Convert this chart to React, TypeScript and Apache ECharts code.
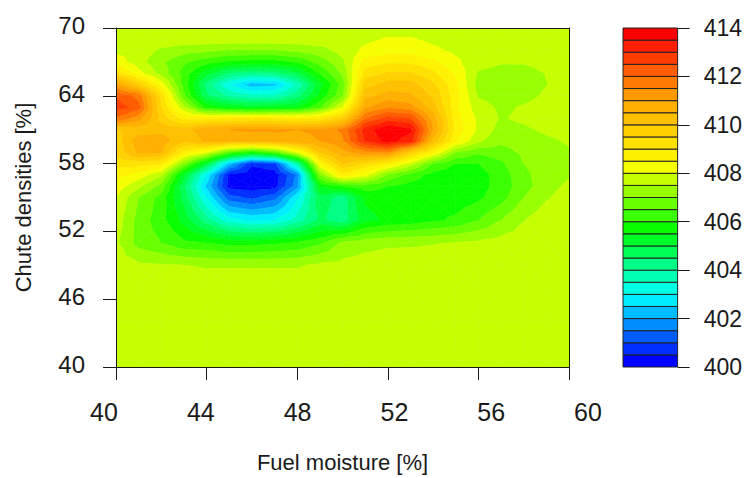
import React, { useEffect, useRef } from "react";
import * as echarts from "echarts";

// Grid of the response surface: fuel moisture (x) by chute density (y)
const fuelMoisture = [40, 41, 42, 43, 44, 45, 46, 47, 48, 49, 50, 51, 52, 53, 54, 55, 56, 57, 58, 59, 60];
const chuteDensity = [40, 44, 47, 49, 51, 53, 55, 56, 57, 58, 59, 60, 61, 62, 63, 64, 65, 66, 67, 68, 69, 70];

// One row of values per chute density, left to right along fuel moisture
const z40 = [407.8, 407.8, 407.8, 407.8, 407.8, 407.8, 407.8, 407.8, 407.8, 407.8, 407.8, 407.8, 407.8, 407.8, 407.8, 407.8, 407.8, 407.8, 407.8, 407.8, 407.8];
const z44 = [407.8, 407.8, 407.8, 407.8, 407.8, 407.8, 407.8, 407.8, 407.8, 407.8, 407.8, 407.8, 407.8, 407.8, 407.8, 407.8, 407.8, 407.8, 407.8, 407.8, 407.8];
const z47 = [407.8, 407.8, 407.8, 407.8, 407.8, 407.8, 407.8, 407.8, 407.8, 407.8, 407.8, 407.8, 407.8, 407.8, 407.8, 407.8, 407.8, 407.8, 407.8, 407.8, 407.8];
const z49 = [407.8, 407.6, 407.55, 407.52, 407.45, 407.45, 407.45, 407.45, 407.45, 407.6, 407.65, 407.75, 407.8, 407.8, 407.8, 407.8, 407.8, 407.8, 407.8, 407.8, 407.8];
const z51 = [407.6, 406.8, 406.5, 406.1, 406.0, 405.8, 405.8, 405.9, 406.05, 406.4, 407.1, 407.3, 407.4, 407.42, 407.47, 407.52, 407.6, 407.7, 407.8, 407.8, 407.8];
const z53 = [407.8, 406.8, 406.2, 405.3, 404.2, 403.2, 402.9, 403.0, 403.7, 404.6, 404.2, 405.3, 405.6, 405.7, 405.9, 406.1, 406.5, 407.0, 407.48, 407.8, 407.8];
const z55 = [408.0, 407.0, 406.3, 404.8, 403.0, 401.2, 400.9, 401.3, 402.9, 404.8, 404.2, 405.6, 405.8, 405.7, 405.7, 405.7, 405.9, 406.3, 407.0, 407.45, 407.75];
const z56 = [408.3, 407.6, 406.8, 404.6, 402.4, 400.3, 400.2, 400.3, 401.8, 405.5, 406.0, 406.3, 406.0, 405.8, 405.7, 405.7, 405.8, 406.2, 406.8, 407.3, 407.6];
const z57 = [408.7, 408.3, 407.6, 405.2, 402.9, 400.4, 400.15, 400.2, 401.6, 407.0, 408.8, 408.2, 406.9, 406.3, 405.8, 405.7, 405.8, 406.2, 406.9, 407.2, 407.45];
const z58 = [409.2, 409.2, 409.0, 407.0, 405.0, 402.3, 400.6, 400.9, 403.8, 408.5, 410.0, 409.4, 408.8, 407.8, 406.5, 406.0, 406.0, 406.4, 407.0, 407.25, 407.4];
const z59 = [409.6, 410.6, 410.5, 408.8, 408.05, 406.5, 405.8, 406.5, 408.05, 410.0, 410.8, 411.3, 411.4, 409.8, 408.6, 407.0, 406.6, 406.8, 407.1, 407.3, 407.45];
const z60 = [409.7, 410.8, 410.8, 410.0, 410.6, 410.5, 410.5, 410.6, 410.8, 411.0, 411.4, 413.0, 413.7, 413.2, 410.3, 408.55, 407.6, 407.1, 407.2, 407.4, 407.55];
const z61 = [409.9, 410.2, 410.3, 410.2, 410.9, 411.0, 411.1, 411.1, 411.0, 411.1, 411.6, 413.2, 413.95, 413.6, 410.95, 408.8, 407.9, 407.3, 407.4, 407.6, 407.7];
const z62 = [411.9, 411.2, 409.8, 408.8, 408.8, 409.0, 409.0, 409.0, 408.9, 409.0, 409.8, 412.0, 412.7, 412.5, 410.8, 408.7, 407.9, 407.45, 407.6, 407.8, 407.8];
const z63 = [412.8, 412.2, 409.5, 407.6, 405.8, 405.4, 405.2, 405.3, 405.45, 406.45, 408.05, 410.9, 411.4, 411.2, 410.2, 408.6, 407.7, 407.4, 407.55, 407.75, 407.8];
const z64 = [412.4, 411.8, 409.3, 406.6, 404.6, 403.9, 403.6, 403.6, 404.3, 405.6, 406.9, 410.3, 410.7, 410.6, 409.9, 408.7, 407.45, 407.3, 407.3, 407.6, 407.8];
const z65 = [411.0, 409.8, 408.3, 406.3, 404.3, 403.05, 402.2, 402.35, 403.6, 405.3, 406.7, 409.8, 410.2, 410.2, 409.6, 408.6, 407.3, 407.2, 407.2, 407.48, 407.8];
const z66 = [409.3, 408.2, 407.3, 406.3, 405.2, 404.4, 404.2, 404.3, 404.9, 406.05, 407.1, 409.2, 409.55, 409.55, 409.1, 408.4, 407.45, 407.3, 407.3, 407.52, 407.8];
const z67 = [408.3, 407.7, 407.1, 406.6, 406.2, 405.9, 405.8, 405.8, 406.05, 406.7, 407.4, 408.7, 408.9, 408.9, 408.6, 408.1, 407.7, 407.55, 407.55, 407.65, 407.8];
const z68 = [407.9, 407.8, 407.4, 407.2, 407.1, 406.95, 406.95, 406.95, 407.1, 407.3, 407.7, 408.1, 408.3, 408.3, 408.1, 407.9, 407.8, 407.75, 407.75, 407.8, 407.8];
const z69 = [407.8, 407.8, 407.8, 407.8, 407.8, 407.8, 407.8, 407.8, 407.8, 407.8, 407.8, 407.9, 408.05, 408.05, 407.9, 407.8, 407.8, 407.8, 407.8, 407.8, 407.8];
const z70 = [407.8, 407.8, 407.8, 407.8, 407.8, 407.8, 407.8, 407.8, 407.8, 407.8, 407.8, 407.8, 407.8, 407.8, 407.8, 407.8, 407.8, 407.8, 407.8, 407.8, 407.8];

const zGrid = [z40, z44, z47, z49, z51, z53, z55, z56, z57, z58, z59, z60, z61, z62, z63, z64, z65, z66, z67, z68, z69, z70];

// Contour levels and colour key
const levelMin = 400;
const levelMax = 414;
const levelStep = 0.5;
const keyTickStep = 2;
const rampAnchors = ["#0000ff", "#00ffff", "#00ff00", "#ffff00", "#ffa500", "#ff0000"];

const FONT = "'Liberation Sans', Arial, Helvetica, sans-serif";
const INK = "#1a1a1a";

function hexToRgb(h: string): number[] {
  const n = parseInt(h.slice(1), 16);
  return [(n >> 16) & 255, (n >> 8) & 255, n & 255];
}

function rampColors(n: number): string[] {
  const anchors = rampAnchors.map(hexToRgb);
  const out: string[] = [];
  for (let i = 0; i < n; i++) {
    const t = (i / (n - 1)) * (anchors.length - 1);
    const k = Math.min(Math.floor(t), anchors.length - 2);
    const f = t - k;
    const c = anchors[k].map((a, j) => Math.round(a + (anchors[k + 1][j] - a) * f));
    out.push(`rgb(${c[0]},${c[1]},${c[2]})`);
  }
  return out;
}

const nBands = Math.round((levelMax - levelMin) / levelStep);
const bandColors = rampColors(nBands);

type Pt = { x: number; y: number; v: number };

// Sutherland-Hodgman clip of a polygon against one contour level
function clipPoly(poly: Pt[], level: number, keepAbove: boolean): Pt[] {
  const out: Pt[] = [];
  const inside = (p: Pt) => (keepAbove ? p.v >= level : p.v <= level);
  for (let i = 0; i < poly.length; i++) {
    const a = poly[i];
    const b = poly[(i + 1) % poly.length];
    const ia = inside(a);
    const ib = inside(b);
    if (ia) out.push(a);
    if (ia !== ib) {
      const t = (level - a.v) / (b.v - a.v);
      out.push({ x: a.x + t * (b.x - a.x), y: a.y + t * (b.y - a.y), v: level });
    }
  }
  return out;
}

function bandOf(v: number): number {
  return Math.max(0, Math.min(nBands - 1, Math.floor((v - levelMin) / levelStep)));
}

// Filled contour bands for one grid cell (split into four triangles)
function renderCell(_params: any, api: any) {
  const ci = api.value(2);
  const ri = api.value(3);
  const c: Pt[] = [
    [ci, ri],
    [ci + 1, ri],
    [ci + 1, ri + 1],
    [ci, ri + 1],
  ].map(([a, b]) => ({ x: fuelMoisture[a], y: chuteDensity[b], v: zGrid[b][a] }));
  const mid: Pt = {
    x: (c[0].x + c[1].x) / 2,
    y: (c[0].y + c[2].y) / 2,
    v: (c[0].v + c[1].v + c[2].v + c[3].v) / 4,
  };
  const children: any[] = [];
  for (let t = 0; t < 4; t++) {
    const tri = [c[t], c[(t + 1) % 4], mid];
    const vs = tri.map((p) => p.v);
    const kLo = bandOf(Math.min(...vs));
    const kHi = bandOf(Math.max(...vs));
    for (let k = kLo; k <= kHi; k++) {
      let poly = tri;
      if (k > 0) poly = clipPoly(poly, levelMin + k * levelStep, true);
      if (k < nBands - 1) poly = clipPoly(poly, levelMin + (k + 1) * levelStep, false);
      if (poly.length < 3) continue;
      const pts = poly.map((p) => api.coord([p.x, p.y]));
      children.push({
        type: "polygon",
        shape: { points: pts },
        style: { fill: bandColors[k], stroke: bandColors[k], lineWidth: 0.6 },
      });
    }
  }
  return { type: "group", children };
}

// Colour key rectangles
function renderKey(_params: any, api: any) {
  const k = api.value(1);
  const lo = levelMin + k * levelStep;
  const hi = lo + levelStep;
  const p1 = api.coord([0, lo]);
  const p2 = api.coord([0, hi]);
  const size = api.size([1, 0]);
  return {
    type: "rect",
    shape: { x: p1[0] - size[0] / 2, y: p2[1], width: size[0], height: p1[1] - p2[1] },
    style: { fill: bandColors[k], stroke: "#222", lineWidth: 1 },
  };
}

export default function App() {
  const ref = useRef<HTMLDivElement>(null);

  useEffect(() => {
    if (!ref.current) return;
    const chart = echarts.init(ref.current, null, { renderer: "svg" });

    const cells: number[][] = [];
    for (let r = 0; r < chuteDensity.length - 1; r++) {
      for (let c = 0; c < fuelMoisture.length - 1; c++) {
        cells.push([fuelMoisture[c], chuteDensity[r], c, r]);
      }
    }
    const keyData = bandColors.map((_, k) => [0, k]);

    const frameLine = { show: true, onZero: false, lineStyle: { color: INK, width: 1 } };
    const tickStyle = { show: true, inside: false, length: 13, lineStyle: { color: INK, width: 1 } };

    chart.setOption({
      animation: false,
      backgroundColor: "#ffffff",
      textStyle: { fontFamily: FONT },
      grid: [
        { left: 116, top: 28, width: 453, height: 339 },
        { left: 104, top: 25.5, width: 484, height: 339 },
        { left: 623, top: 28, width: 55, height: 339 },
      ],
      xAxis: [
        {
          gridIndex: 0,
          type: "value",
          min: 40,
          max: 60,
          interval: 4,
          position: "bottom",
          axisLine: frameLine,
          axisTick: tickStyle,
          axisLabel: { show: false },
          splitLine: { show: false },
          name: "Fuel moisture [%]",
          nameLocation: "middle",
          nameGap: 84,
          nameTextStyle: { fontSize: 22, color: INK, fontFamily: FONT },
          z: 10,
        },
        {
          gridIndex: 0,
          type: "value",
          min: 40,
          max: 60,
          position: "top",
          axisLine: frameLine,
          axisTick: { show: false },
          axisLabel: { show: false },
          splitLine: { show: false },
          z: 10,
        },
        {
          gridIndex: 1,
          type: "value",
          min: 40,
          max: 60,
          interval: 4,
          position: "bottom",
          axisLine: { show: false },
          axisTick: { show: false },
          axisLabel: { fontSize: 25, margin: 35, color: INK, fontFamily: FONT, showMinLabel: true, showMaxLabel: true },
          splitLine: { show: false },
        },
        {
          gridIndex: 2,
          type: "category",
          data: ["key"],
          boundaryGap: true,
          show: false,
        },
      ],
      yAxis: [
        {
          gridIndex: 0,
          type: "value",
          min: 40,
          max: 70,
          interval: 6,
          position: "left",
          axisLine: frameLine,
          axisTick: tickStyle,
          axisLabel: { show: false },
          splitLine: { show: false },
          name: "Chute densities [%]",
          nameLocation: "middle",
          nameGap: 82,
          nameRotate: 90,
          nameTextStyle: { fontSize: 22, color: INK, fontFamily: FONT },
          z: 10,
        },
        {
          gridIndex: 0,
          type: "value",
          min: 40,
          max: 70,
          position: "right",
          axisLine: frameLine,
          axisTick: { show: false },
          axisLabel: { show: false },
          splitLine: { show: false },
          z: 10,
        },
        {
          gridIndex: 1,
          type: "value",
          min: 40,
          max: 70,
          interval: 6,
          position: "left",
          axisLine: { show: false },
          axisTick: { show: false },
          axisLabel: { fontSize: 24, margin: 19, color: INK, fontFamily: FONT, showMinLabel: true, showMaxLabel: true },
          splitLine: { show: false },
        },
        {
          gridIndex: 2,
          type: "value",
          min: levelMin,
          max: levelMax,
          interval: keyTickStep,
          position: "right",
          axisLine: { show: false, onZero: false },
          axisTick: { show: true, inside: false, length: 12, lineStyle: { color: INK, width: 1 } },
          axisLabel: { fontSize: 23, margin: 26, color: INK, fontFamily: FONT, showMinLabel: true, showMaxLabel: true },
          splitLine: { show: false },
        },
      ],
      series: [
        {
          type: "custom",
          name: "surface",
          xAxisIndex: 0,
          yAxisIndex: 0,
          coordinateSystem: "cartesian2d",
          clip: true,
          silent: true,
          encode: { x: 0, y: 1 },
          data: cells,
          renderItem: renderCell,
        },
        {
          type: "custom",
          name: "key",
          xAxisIndex: 3,
          yAxisIndex: 3,
          coordinateSystem: "cartesian2d",
          silent: true,
          encode: { x: 0, y: -1 },
          data: keyData,
          renderItem: renderKey,
        },
      ],
    });

    return () => chart.dispose();
  }, []);

  return (
    <div
      ref={ref}
      style={{ position: "absolute", left: 0, top: 0, width: 745, height: 478 }}
    />
  );
}
